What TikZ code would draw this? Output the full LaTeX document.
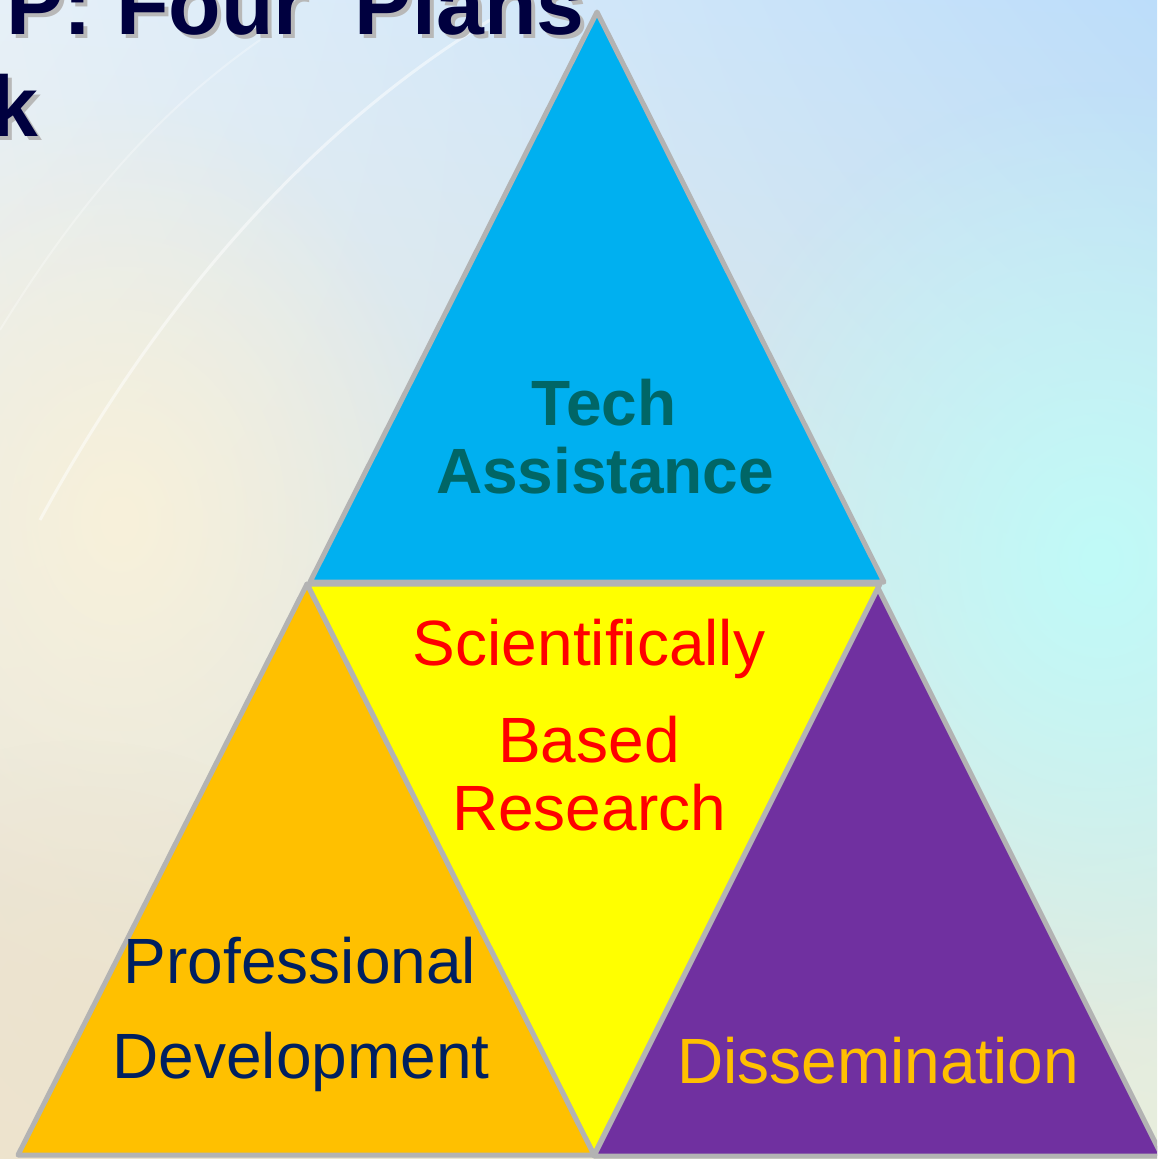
\documentclass[tikz,border=0pt]{standalone}
\usepackage{fontspec}
\setmainfont{Liberation Sans}
\usetikzlibrary{fadings,shadings}
\tikzfading[name=glow, inner color=transparent!0, outer color=transparent!100]
\definecolor{bordergray}{HTML}{B3B3B3}
\definecolor{tablue}{HTML}{00B0F0}
\definecolor{sbryellow}{HTML}{FFFF00}
\definecolor{pdorange}{HTML}{FFC000}
\definecolor{dispurple}{HTML}{7030A0}
\definecolor{tealtext}{HTML}{006666}
\definecolor{navytext}{HTML}{002060}
\definecolor{titlenavy}{HTML}{00003F}
\definecolor{shadowgray}{HTML}{B8B8B8}
\definecolor{bgul}{HTML}{E6F0F8}
\definecolor{bgur}{HTML}{BCDDFA}
\definecolor{bgll}{HTML}{EDE3CD}
\definecolor{bglr}{HTML}{E8EEDC}
\definecolor{bgcyan}{HTML}{C0FBF8}
\definecolor{bgcream}{HTML}{F8F1DA}
\tikzset{
  tri/.style={draw=bordergray, line width=5pt, line join=round},
  lbl/.style={inner sep=0pt, anchor=base},
  big/.style={font=\fontsize{64}{64}\selectfont},
  bigb/.style={font=\fontsize{64}{64}\selectfont\bfseries},
  ttl/.style={inner sep=0pt, anchor=base west, font=\fontsize{86}{86}\selectfont\bfseries}
}
\begin{document}
\begin{tikzpicture}[x=1pt, y=-1pt]
\useasboundingbox (0,0) rectangle (1157,1159);
\begin{scope}
\clip (0,0) rectangle (1157,1159);
% background
\shade[upper left=bgul, upper right=bgur, lower left=bgll, lower right=bglr] (0,0) rectangle (1157,1159);
\fill[bgcyan, path fading=glow] (1100,560) ellipse (420 and 480);
\fill[bgcream, path fading=glow] (120,520) ellipse (330 and 420);
\fill[bgll, path fading=glow, opacity=0.8] (80,1000) ellipse (300 and 260);
\draw[white, opacity=0.5, line width=3pt] (40,520) .. controls (160,300) and (310,130) .. (490,20);
\draw[white, opacity=0.3, line width=2pt] (0,330) .. controls (80,200) and (160,110) .. (260,40);
% title
\node[ttl, text=shadowgray] (t1s) at (10,38) {P: Four\ \ Plans};
\node[ttl, text=shadowgray] (t2s) at (-6,140) {k};
\node[ttl, text=titlenavy] (t1) at (6,34) {P: Four\ \ Plans};
\node[ttl, text=titlenavy] (t2) at (-10,136) {k};
% triangles
\filldraw[tri, fill=sbryellow] (307,584) -- (880,584) -- (594,1155) -- cycle;
\filldraw[tri, fill=pdorange] (307,584) -- (594,1155) -- (18,1155) -- cycle;
\filldraw[tri, fill=dispurple] (878,588) -- (1162,1156) -- (594,1156) -- cycle;
\filldraw[tri, fill=tablue] (597,12) -- (884,582) -- (310,582) -- cycle;
\end{scope}
% labels
\node[lbl, bigb, text=tealtext] (tech1) at (604,425) {Tech};
\node[lbl, bigb, text=tealtext] (tech2) at (605,493) {Assistance};
\node[lbl, big, text=red] (sbr1) at (589,665) {Scientifically};
\node[lbl, big, text=red] (sbr2) at (589,762) {Based};
\node[lbl, big, text=red] (sbr3) at (589,830) {Research};
\node[lbl, big, text=navytext] (pd1) at (300,983) {Professional};
\node[lbl, big, text=navytext] (pd2) at (301,1078) {Development};
\node[lbl, big, text=pdorange] (dis) at (878,1083) {Dissemination};
\end{tikzpicture}
\end{document}
